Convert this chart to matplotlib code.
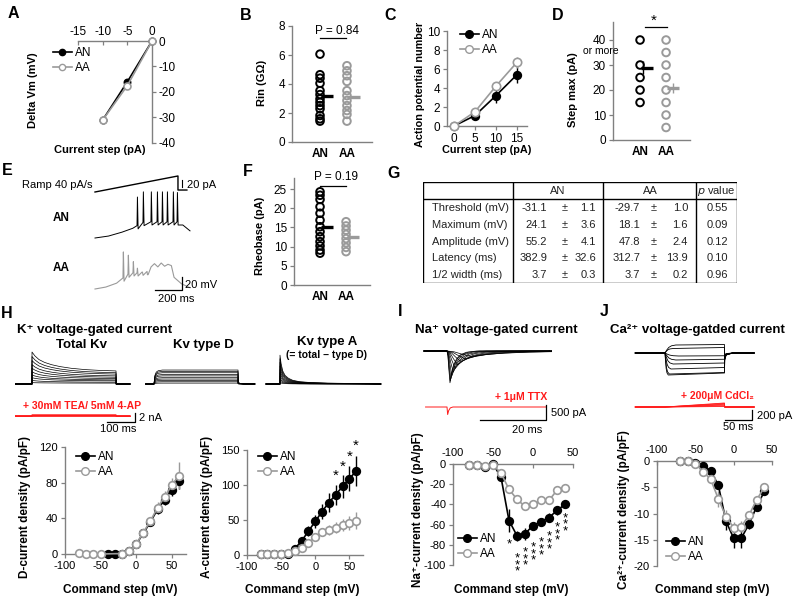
import numpy as np
import matplotlib
matplotlib.use('Agg')
import matplotlib.pyplot as plt
from matplotlib.lines import Line2D

plt.rcParams['font.family'] = ['Liberation Sans', 'DejaVu Sans']
plt.rcParams['font.size'] = 8.5
plt.rcParams['axes.unicode_minus'] = False

# ---------------- data ----------------
# A  (current step vs delta Vm)
a_step = [0, -5, -10]
a_an = [0, -16, -31]
a_aa = [0, -17.5, -31]
# B  (input resistance, GOhm)
b_an = [6.06, 4.64, 4.4, 4.05, 3.54, 3.27, 2.97, 2.74, 2.51, 2.29, 1.83, 1.6, 1.44]
b_aa = [5.26, 4.91, 4.57, 4.18, 3.54, 3.2, 2.86, 2.51, 2.17, 1.9, 1.44]
b_mean = [3.15, 3.12]
# C  (AP number)
c_step = [0, 5, 10, 15]
c_an = [0, 1.1, 3.2, 5.4]
c_an_err = [0, 0.2, 0.8, 0.9]
c_aa = [0, 1.5, 4.2, 6.7]
c_aa_err = [0, 0.2, 0.3, 0.6]
# D  (step max, pA)
d_an = [40, 30, 25, 20, 15]
d_aa = [40, 35, 30, 25, 20, 15, 10, 5]
d_mean = [29, 21]
d_sem = [2.5, 2]
# F  (rheobase, pA)
f_an = [24.3, 23.4, 22.3, 20.4, 18.7, 16.9, 15.2, 13.9, 12.6, 11.3, 10.2, 9.1, 8.3]
f_aa = [16.5, 15.4, 14.3, 13.2, 12.1, 11.0, 9.8, 8.7]
f_mean = [15.1, 12.6]
# G  (table)
g_rows = ['Threshold (mV)', 'Maximum (mV)', 'Amplitude (mV)', 'Latency (ms)', '1/2 width (ms)']
g_an_mean = ['-31.1', '24.1', '55.2', '382.9', '3.7']
g_an_sem = ['1.1', '3.6', '4.1', '32.6', '0.3']
g_aa_mean = ['-29.7', '18.1', '47.8', '312.7', '3.7']
g_aa_sem = ['1.0', '1.6', '2.4', '13.9', '0.2']
g_p = ['0.55', '0.09', '0.12', '0.10', '0.96']
# E  (ramp traces; ms, pA / mV)
ramp_t = [0, 614, 614, 680]
ramp_pa = [0, 26.7, 3.3, 3.3]
an_env_t = [0, 100, 200, 280]
an_env_v = [-70, -67, -61, -55]
an_spk_t = [311, 355, 414, 459, 496, 533, 577, 607]
an_spk_pk = [-7, 1, 1, 1, 1, 1, 1, 0]
an_spk_tr = [-51, -46, -45, -45, -45, -45, -45, -45]
an_tail_t = [650, 703]
an_tail_v = [-50, -59]
aa_env_t = [0, 80, 160]
aa_env_v = [-70, -67, -61]
aa_spk_t = [207, 244, 281, 311, 348, 385]
aa_spk_pk = [-13, -18, -28, -38, -44, -48]
aa_spk_tr = [-53, -47, -45, -45, -44, -43]
aa_tail_t = [415, 440, 465, 490, 515, 540, 565, 585, 640, 703]
aa_tail_v = [-36, -31, -36, -30, -35, -32, -34, -52, -62, -68]
# H traces (ms, nA)
kv_tot_pk = [0.3, 0.8, 1.4, 2.0, 2.7, 3.5, 4.3, 5.2, 6.1, 7.1]
kv_tot_ss = [0.2, 0.4, 0.7, 0.9, 1.2, 1.5, 1.8, 2.2, 2.5, 2.9]
kv_dec_t = [0, 10, 25, 45, 70, 100, 140, 190, 240, 300]
kv_dec_f = [1.0, 0.8, 0.6, 0.45, 0.33, 0.23, 0.14, 0.07, 0.03, 0.0]
kv_d_ss = [0.2, 0.5, 0.8, 1.1, 1.4, 1.8, 2.1, 2.5, 2.8, 3.1]
kv_d_t = [0, 3, 8, 15, 30, 300]
kv_d_f = [0, 0.6, 0.85, 0.95, 1.0, 1.0]
kv_a_pk = [0.3, 0.7, 1.2, 1.8, 2.5, 3.2, 4.0, 4.8, 5.6, 6.4]
kv_a_t = [0, 4, 10, 18, 30, 45, 70, 110, 170, 250, 320]
kv_a_f = [1.0, 0.7, 0.45, 0.3, 0.2, 0.13, 0.08, 0.05, 0.03, 0.02, 0.01]
tea_ss = [0.0, 0.05, 0.1, 0.15, 0.2, 0.25]
# H lower: D-current and A-current density
d_v_an = [-40, -30, -20, -10, 0, 10, 20, 30, 40, 50, 60]
d_cur_an = [0, 0, 0, 3, 11, 23, 36, 50, 61, 72, 82]
d_cur_an_err = [0, 0, 0.5, 1, 2, 3, 4, 5, 6, 7, 9]
d_v_aa = [-80, -70, -60, -50, -20, -10, 0, 10, 20, 30, 40, 50, 60]
d_cur_aa = [1, 0.3, 0.3, 0, 0.5, 3, 11, 24, 37, 52, 64, 77, 88]
d_cur_aa_err = [0, 0, 0, 0, 0.5, 1, 2, 3, 4, 6, 7, 8, 15]
a_v = [-80, -70, -60, -50, -40, -30, -20, -10, 0, 10, 20, 30, 40, 50, 60]
a_cur_an = [1, 1, 1, 1, 2, 9, 20, 34, 48, 62, 75, 86, 98, 109, 120]
a_cur_an_err = [0, 0, 0, 0, 1, 2, 4, 7, 9, 11, 13, 14, 16, 18, 22]
a_cur_aa = [1.4, 1.4, 1.4, 1.4, 2.3, 6, 10, 17, 26, 33, 36, 39, 43, 46, 49]
a_cur_aa_err = [0, 0, 0, 0, 0.5, 1, 2, 2, 3, 5, 7, 8, 9, 10, 12]
a_star_v = [30, 40, 50, 60]
a_star_y = [113, 126, 141, 156]
# I  (Na)
na_pk = [-1060, -1000, -920, -820, -700, -580, -460, -350, -260, -180]
na_tpk = [0.9, 1.0, 1.2, 1.5, 1.9, 2.5, 3.2, 4.2, 5.5, 7.2]
na_tmpl_t = [0, 0.3, 0.6, 1.0, 1.5, 2.2, 3.2, 4.5, 6.5, 10]
na_tmpl_f = [0, 0.15, 0.55, 1.0, 0.72, 0.45, 0.25, 0.12, 0.04, 0]
ttx_t = [-6.5, 0, 0.2, 0.5, 1.0, 1.8, 30]
ttx_i = [0, 0, -250, -120, -30, 0, 0]
na_v = [-80, -70, -60, -50, -40, -30, -20, -10, 0, 10, 20, 30, 40]
na_an = [-1, -1, -3, 0, -13, -56, -71, -69, -61, -57, -53, -46, -40]
na_an_err = [0.5, 0.5, 1, 1, 3, 11, 5, 6, 4, 4, 4, 4, 3]
na_aa = [-1, -1, -2, -1, -9, -25, -35, -42, -40, -36, -36, -26, -24]
na_aa_err = [0.5, 0.5, 1, 1, 2, 4, 3, 3, 3, 3, 4, 3, 2]
na_star_v = [-30, -20, -10, 0, 10, 20, 30, 40]
na_star_n = [1, 3, 3, 3, 3, 3, 3, 3]
na_star_y = [-77, -91, -85, -80, -75, -69, -60, -51]
# J  (Ca)
ca_pk = [-60, -140, -220, -320, -420, -440, 90, 160]
ca_end = [-55, -125, -200, -290, -390, -400, 110, 170]
ca_tact = [25, 20, 15, 11, 8, 6, 15, 20]
ca_tail = [-40, -60, -80, -100, -120, -130, -130, -130]
ca_tmpl_t = [0, 0.15, 0.35, 0.6, 1.0]
ca_tmpl_f = [0, 0.35, 0.7, 0.9, 1.0]
cd_end = [10, 25, 40, 55, 70, 80]
ca_v = [-70, -60, -50, -40, -30, -20, -10, 0, 10, 20, 30, 40]
ca_an = [0, 0, -0.3, -1, -1.9, -4.6, -11.5, -14.7, -14.7, -12, -8.7, -5.8]
ca_an_err = [0, 0, 0.2, 0.3, 0.4, 0.8, 1.6, 1.8, 1.8, 1, 0.8, 0.5]
ca_aa = [0, 0, -0.5, -2, -3.5, -7.2, -10.6, -12.7, -12.5, -10.3, -7.4, -5.0]
ca_aa_err = [0, 0, 0.2, 0.3, 0.5, 1.5, 1.2, 1, 1, 0.8, 0.6, 0.5]

# ---------------- helpers ----------------
W, H = 800, 604
GRAY = '#9a9a9a'
SPINE = '#808080'
RED = '#ff1a1a'
fig = plt.figure(figsize=(8, 6.04), dpi=100)


def px_axes(x0, y0, x1, y1):
    return fig.add_axes([x0 / W, 1 - y1 / H, (x1 - x0) / W, (y1 - y0) / H])


def ftext(x, y, s, **kw):
    kw.setdefault('ha', 'center')
    kw.setdefault('va', 'center')
    fig.text(x / W, 1 - y / H, s, **kw)


def trace_axes(x0, y0, x1, y1, px_t0, t_per_px, px_base, u_per_px, base=0.0):
    ax = px_axes(x0, y0, x1, y1)
    ax.set_xlim((x0 - px_t0) * t_per_px, (x1 - px_t0) * t_per_px)
    ax.set_ylim(base + (px_base - y1) * u_per_px, base + (px_base - y0) * u_per_px)
    ax.axis('off')
    return ax


def style(ax, spines=('left', 'bottom'), size=8.5):
    for k, s in ax.spines.items():
        s.set_visible(k in spines)
        s.set_color(SPINE)
        s.set_linewidth(1.0)
    ax.tick_params(color=SPINE, labelsize=size, length=3, width=0.9, pad=2)
    ax.patch.set_alpha(0)


def curve(ax, x, y, err, filled, ms=5.5):
    if filled:
        kw = dict(color='black', mfc='black', mec='black')
    else:
        kw = dict(color=GRAY, mfc='white', mec=GRAY)
    c = ax.errorbar(x, y, yerr=err, marker='o', ms=ms, mew=1.2, lw=1.2,
                    elinewidth=1.0, capsize=0, zorder=3, **kw)
    for a in c.get_children():
        a.set_clip_on(False)


def legend(ax, x, y, ms=5.5):
    h = [Line2D([], [], color='black', marker='o', ms=ms, mfc='black', lw=1.2),
         Line2D([], [], color=GRAY, marker='o', ms=ms, mfc='white', mec=GRAY, lw=1.2)]
    ax.legend(h, ['AN', 'AA'], loc='upper left', bbox_to_anchor=(x / W, 1 - y / H),
              bbox_transform=fig.transFigure, frameon=False, handlelength=1.6,
              handletextpad=0.3, labelspacing=0.25, borderpad=0, borderaxespad=0,
              fontsize=8.5)


def dots(ax, an, aa, means):
    ax.scatter([0] * len(an), an, s=30, facecolors='none', edgecolors='black',
               linewidths=1.4, clip_on=False, zorder=3)
    ax.scatter([1] * len(aa), aa, s=30, facecolors='none', edgecolors=GRAY,
               linewidths=1.4, clip_on=False, zorder=3)
    ax.plot([0.02, 0.5], [means[0]] * 2, color='black', lw=2.4, solid_capstyle='butt', zorder=4)
    ax.plot([1.02, 1.5], [means[1]] * 2, color=GRAY, lw=2.4, solid_capstyle='butt', zorder=4)
    ax.set_xticks([0, 1])
    ax.set_xticklabels(['AN', 'AA'], fontweight='bold')
    ax.tick_params(axis='x', length=0, pad=4)


def spikes(env_t, env_v, spk_t, spk_pk, spk_tr, tail_t, tail_v):
    t, v = list(env_t), list(env_v)
    for ts, pk, tr in zip(spk_t, spk_pk, spk_tr):
        t += [ts, ts + 3, ts + 8]
        v += [tr, pk, tr - 5]
    return t + list(tail_t), v + list(tail_v)


# panel letters
for lab, x, y in [('A', 13, 14), ('B', 246, 15), ('C', 390, 15), ('D', 558, 15),
                  ('E', 7, 171), ('F', 248, 172), ('G', 394, 174), ('H', 7, 313),
                  ('I', 400, 312), ('J', 604, 312)]:
    ftext(x, y, lab, fontsize=11.5, fontweight='bold')

# ---------------- A ----------------
ax = px_axes(78, 41, 152, 143)
style(ax, ('top', 'right'))
ax.set_xlim(-15, 0)
ax.set_ylim(-40, 0)
ax.xaxis.tick_top()
ax.yaxis.tick_right()
ax.tick_params(axis='x', direction='in')
ax.set_xticks([-15, -10, -5, 0])
ax.set_yticks([0, -10, -20, -30, -40])
curve(ax, a_step, a_an, None, True, ms=4.5)
curve(ax, a_step, a_aa, None, False, ms=5)
legend(ax, 53, 47, ms=4.5)
ftext(33, 90, 'Delta Vm (mV)', rotation=90, fontweight='bold', fontsize=8)
ftext(100, 150, 'Current step (pA)', fontweight='bold', fontsize=8)

# ---------------- B ----------------
ax = px_axes(292, 26, 372, 142)
style(ax)
ax.set_xlim(-1.04, 1.93)
ax.set_ylim(0, 8)
ax.set_yticks([0, 2, 4, 6, 8])
dots(ax, b_an, b_aa, b_mean)
ax.plot([0, 0.96], [7.17, 7.17], color='black', lw=0.9, clip_on=False)
ftext(337, 31, 'P = 0.84')
ftext(262, 83, 'Rin (GΩ)', rotation=90, fontweight='bold', fontsize=8)

# ---------------- C ----------------
ax = px_axes(447, 31, 527, 126)
style(ax)
ax.set_xlim(-1.67, 17.4)
ax.set_ylim(0, 10)
ax.set_xticks([0, 5, 10, 15])
ax.set_yticks([0, 2, 4, 6, 8, 10])
curve(ax, c_step, c_an, c_an_err, True)
curve(ax, c_step, c_aa, c_aa_err, False, ms=6)
legend(ax, 460, 29)
ftext(420, 84, 'Action potential number', rotation=90, fontweight='bold', fontsize=7.8)
ftext(487, 150, 'Current step (pA)', fontweight='bold', fontsize=7.8)

# ---------------- D ----------------
ax = px_axes(613, 22, 690, 140)
style(ax)
ax.set_xlim(-1.04, 1.92)
ax.set_ylim(0, 47.2)
ax.set_yticks([0, 10, 20, 30, 40])
dots(ax, d_an, d_aa, d_mean)
ax.errorbar([0.1, 1.27], d_mean, yerr=d_sem, fmt='none', ecolor=['black', GRAY], elinewidth=1, zorder=5)
ax.plot([0.19, 1.04], [45.2, 45.2], color='black', lw=0.9, clip_on=False)
ftext(654, 21, '*', fontsize=11)
ftext(601, 51, 'or more', fontsize=7.5)
ftext(573, 90, 'Step max (pA)', rotation=90, fontweight='bold', fontsize=8)

# ---------------- E ----------------
ax = trace_axes(88, 165, 215, 200, 95, 7.4, 192, 1 / 0.6)
ax.plot(ramp_t, ramp_pa, color='black', lw=1.0)
ax.plot([(182 - 95) * 7.4] * 2, [(192 - 187) / 0.6, (192 - 180) / 0.6], color='black', lw=0.8)
ftext(92, 185, 'Ramp 40 pA/s', ha='right', fontsize=8)
ftext(187, 185, '20 pA', ha='left', fontsize=8)

ax = trace_axes(88, 180, 215, 245, 95, 7.4, 238, 1 / 0.65, base=-70)
t, v = spikes(an_env_t, an_env_v, an_spk_t, an_spk_pk, an_spk_tr, an_tail_t, an_tail_v)
ax.plot(t, v, color='black', lw=0.7)
ftext(61, 218, 'AN', fontweight='bold')

ax = trace_axes(88, 240, 215, 302, 95, 7.4, 289, 1 / 0.65, base=-70)
t, v = spikes(aa_env_t, aa_env_v, aa_spk_t, aa_spk_pk, aa_spk_tr, aa_tail_t, aa_tail_v)
ax.plot(t, v, color=GRAY, lw=0.8)
ax.plot([444, 644, 644], [-71.5, -71.5, -51.5], color='black', lw=0.9)
ftext(61, 268, 'AA', fontweight='bold')
ftext(185, 285, '20 mV', ha='left', fontsize=8)
ftext(176, 299, '200 ms', fontsize=8)

# ---------------- F ----------------
ax = px_axes(294, 178, 370, 285)
style(ax)
ax.set_xlim(-1.0, 1.92)
ax.set_ylim(0, 27.9)
ax.set_yticks([0, 5, 10, 15, 20, 25])
dots(ax, f_an, f_aa, f_mean)
ax.plot([0, 1.0], [25.8, 25.8], color='black', lw=0.9, clip_on=False)
ftext(336, 177, 'P = 0.19')
ftext(260, 236, 'Rheobase (pA)', rotation=90, fontweight='bold', fontsize=8)

# ---------------- G (table) ----------------
ax = px_axes(423, 182, 737, 283)
ax.set_xlim(423, 737)
ax.set_ylim(283, 182)
ax.axis('off')
ax.add_patch(plt.Rectangle((423, 182), 314, 101, fill=False, lw=1.0, ec='black'))
for xv in (513, 603, 696):
    ax.plot([xv, xv], [182, 283], color='black', lw=1.0)
ax.plot([423, 737], [199, 199], color='black', lw=1.0)
tk = dict(fontsize=8, color='#222222', va='center')
ax.text(558, 191, 'AN', ha='center', **tk)
ax.text(650, 191, 'AA', ha='center', **tk)
ax.text(716.5, 191, '$p$ value', ha='center', **tk)
for i, row in enumerate(g_rows):
    y = 208 + i * 16.8
    ax.text(432, y, row, ha='left', **tk)
    ax.text(547, y, g_an_mean[i], ha='right', **tk)
    ax.text(565, y, '±', ha='center', **tk)
    ax.text(596, y, g_an_sem[i], ha='right', **tk)
    ax.text(640, y, g_aa_mean[i], ha='right', **tk)
    ax.text(654, y, '±', ha='center', **tk)
    ax.text(688, y, g_aa_sem[i], ha='right', **tk)
    ax.text(717, y, g_p[i], ha='center', **tk)

# ---------------- H traces ----------------
ftext(17, 330, 'K⁺ voltage-gated current', ha='left', fontweight='bold', fontsize=9.5)
ftext(82, 345, 'Total Kv', fontweight='bold', fontsize=9.5)
ftext(203, 345, 'Kv type D', fontweight='bold', fontsize=9.5)
ftext(327, 342, 'Kv type A', fontweight='bold', fontsize=9.5)
ftext(327, 355, '(= total – type D)', fontweight='bold', fontsize=7.5)

ax = trace_axes(15, 342, 140, 392, 32, 3.57, 384, 0.222)
for pk, ss in zip(kv_tot_pk, kv_tot_ss):
    i = [ss + (pk - ss) * f for f in kv_dec_f]
    ax.plot([-60, 0] + kv_dec_t + [300.5, 350], [0, 0] + i + [0, 0], color='black', lw=0.5)

ax = trace_axes(140, 342, 262, 392, 154, 3.57, 384, 0.222)
for ss in kv_d_ss:
    i = [ss * f for f in kv_d_f]
    ax.plot([-30] + kv_d_t + [300.5, 306, 320, 360], [0] + i + [0.12 * ss, 0.05 * ss, 0.01, 0],
            color='black', lw=0.5)

ax = trace_axes(262, 335, 390, 392, 280, 3.57, 384, 0.222)
for pk in kv_a_pk:
    i = [pk * f for f in kv_a_f]
    ax.plot([-50, 0] + kv_a_t + [360], [0, 0] + i + [0], color='black', lw=0.5)

ax = trace_axes(15, 398, 170, 440, 32, 3.57, 416, 0.222)
for ss in tea_ss:
    ax.plot([-60, 0, 0, 300, 300.5, 350], [0, 0, ss, ss, 0, 0], color=RED, lw=0.6)
ax.plot([268, 368, 368], [-1.33, -1.33, 0.67], color='black', lw=0.9)
ftext(82, 406, '+ 30mM TEA/ 5mM 4-AP', color=RED, fontweight='bold', fontsize=7.5)
ftext(139, 418, '2 nA', ha='left', fontsize=8)
ftext(118, 429, '100 ms', fontsize=8)

# ---------------- H lower plots ----------------
ax = px_axes(65, 447, 186, 554)
style(ax, size=8)
ax.set_xlim(-100, 70)
ax.set_ylim(0, 120)
ax.set_xticks([-100, -50, 0, 50])
ax.set_yticks([0, 40, 80, 120])
curve(ax, d_v_an, d_cur_an, d_cur_an_err, True)
curve(ax, d_v_aa, d_cur_aa, d_cur_aa_err, False)
legend(ax, 76, 451)
ftext(25, 507, 'D-current density (pA/pF)', rotation=90, fontweight='bold')
ftext(120, 590, 'Command step (mV)', fontweight='bold')

ax = px_axes(247, 450, 363, 555)
style(ax, size=8)
ax.set_xlim(-100, 70)
ax.set_ylim(0, 150)
ax.set_xticks([-100, -50, 0, 50])
ax.set_yticks([0, 50, 100, 150])
curve(ax, a_v, a_cur_an, a_cur_an_err, True)
curve(ax, a_v, a_cur_aa, a_cur_aa_err, False)
for xv, yv in zip(a_star_v, a_star_y):
    ax.text(xv, yv, '*', ha='center', va='center', fontsize=11, clip_on=False)
legend(ax, 258, 451)
ftext(207, 507, 'A-current density (pA/pF)', rotation=90, fontweight='bold')
ftext(302, 590, 'Command step (mV)', fontweight='bold')

# ---------------- I ----------------
ftext(415, 330, 'Na⁺ voltage-gated current', ha='left', fontweight='bold', fontsize=9.5)
ax = trace_axes(420, 340, 552, 392, 447, 0.303, 351, 33.3)
for pk, tp in zip(na_pk, na_tpk):
    ax.plot([-7] + [s * tp for s in na_tmpl_t] + [31], [0] + [pk * f for f in na_tmpl_f] + [0],
            color='black', lw=0.5)
ax = trace_axes(420, 398, 600, 440, 447, 0.303, 407, 33.3)
ax.plot(ttx_t, ttx_i, color=RED, lw=0.7)
ax.plot([10, 30, 30], [-433, -433, 67], color='black', lw=0.9)
ftext(521, 397, '+ 1μM TTX', color=RED, fontweight='bold', fontsize=7.5)
ftext(551, 413, '500 pA', ha='left', fontsize=8)
ftext(527, 430, '20 ms', fontsize=8)

ax = px_axes(453, 464, 573, 565)
style(ax, ('left', 'top'), size=8)
ax.set_xlim(-100, 50)
ax.set_ylim(-100, 0)
ax.xaxis.tick_top()
ax.tick_params(axis='x', direction='in', pad=4)
ax.set_xticks([-100, -50, 0, 50])
ax.set_yticks([0, -20, -40, -60, -80, -100])
curve(ax, na_v, na_an, na_an_err, True)
curve(ax, na_v, na_aa, na_aa_err, False)
for xv, n, yv in zip(na_star_v, na_star_n, na_star_y):
    ax.text(xv, yv + 3, '\n'.join(['*'] * n), ha='center', va='top', fontsize=9.5,
            linespacing=0.38, clip_on=False)
legend(ax, 458, 533)
ftext(418, 510, 'Na⁺-current density (pA/pF)', rotation=90, fontweight='bold')
ftext(511, 590, 'Command step (mV)', fontweight='bold')

# ---------------- J ----------------
ftext(610, 330, 'Ca²⁺ voltage-gatded current', ha='left', fontweight='bold', fontsize=9.5)
ax = trace_axes(630, 338, 760, 382, 665, 1.85, 353, 20)
for pk, end, ta, tl in zip(ca_pk, ca_end, ca_tact, ca_tail):
    t = [-55] + [s * ta for s in ca_tmpl_t] + [110, 110.5, 113, 125, 165]
    i = [0] + [pk * f for f in ca_tmpl_f] + [end, tl, tl * 0.3, 0, 0]
    ax.plot(t, i, color='black', lw=0.6)
ax = trace_axes(630, 395, 800, 440, 665, 1.85, 407, 20)
for end in cd_end:
    ax.plot([-55, 0, 110, 110.5, 165], [0, 0, end, 0, 0], color=RED, lw=0.6)
ax.plot([111, 161, 161], [-260, -260, -60], color='black', lw=0.9)
ftext(717, 396, '+ 200μM CdCl₂', color=RED, fontweight='bold', fontsize=7.5)
ftext(757, 416, '200 pA', ha='left', fontsize=8)
ftext(738, 427, '50 ms', fontsize=8)

ax = px_axes(657, 461, 772, 566)
style(ax, ('left', 'top'), size=8)
ax.set_xlim(-100, 50)
ax.set_ylim(-20, 0)
ax.xaxis.tick_top()
ax.tick_params(axis='x', direction='in', pad=4)
ax.set_xticks([-100, -50, 0, 50])
ax.set_yticks([0, -5, -10, -15, -20])
curve(ax, ca_v, ca_an, ca_an_err, True)
curve(ax, ca_v, ca_aa, ca_aa_err, False)
legend(ax, 666, 536)
ftext(624, 510, 'Ca²⁺-current density (pA/pF)', rotation=90, fontweight='bold')
ftext(712, 590, 'Command step (mV)', fontweight='bold')

fig.savefig('out.png', dpi=100)
